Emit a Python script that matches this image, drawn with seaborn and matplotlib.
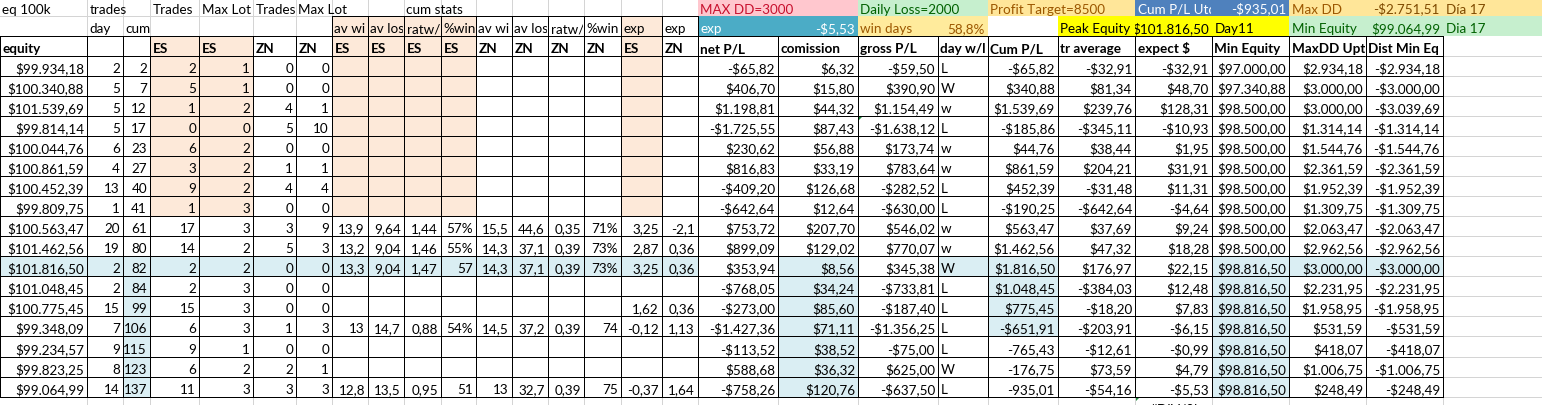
import numpy as np
import matplotlib
matplotlib.use("Agg")
import matplotlib.pyplot as plt
from matplotlib.colors import ListedColormap
from matplotlib.collections import LineCollection
from matplotlib.transforms import Bbox
import seaborn as sns

# ---- data (read from the sheet) ----
equity = [99934.18, 100340.88, 101539.69, 99814.14, 100044.76, 100861.59, 100452.39, 99809.75,
          100563.47, 101462.56, 101816.50, 101048.45, 100775.45, 99348.09, 99234.57, 99823.25, 99064.99]
trades_day = [2, 5, 5, 5, 6, 4, 13, 1, 20, 19, 2, 2, 15, 7, 9, 8, 14]
trades_cum = [2, 7, 12, 17, 23, 27, 40, 41, 61, 80, 82, 84, 99, 106, 115, 123, 137]
es_trades = [2, 5, 1, 0, 6, 3, 9, 1, 17, 14, 2, 2, 15, 6, 9, 6, 11]
es_maxlot = [1, 1, 2, 0, 2, 2, 2, 3, 3, 2, 2, 3, 3, 3, 1, 2, 3]
zn_trades = [0, 0, 4, 5, 0, 1, 4, 0, 3, 5, 0, 0, 0, 1, 0, 2, 3]
zn_maxlot = [0, 0, 1, 10, 0, 1, 4, 0, 9, 3, 0, 0, 0, 3, 0, 1, 3]

es_av_win = [''] * 8 + ['13,9', '13,2', '13,3', '', '', '13', '', '', '12,8']
es_av_loss = [''] * 8 + ['9,64', '9,04', '9,04', '', '', '14,7', '', '', '13,5']
es_ratio = [''] * 8 + ['1,44', '1,46', '1,47', '', '', '0,88', '', '', '0,95']
es_pct_win = [''] * 8 + ['57%', '55%', '57', '', '', '54%', '', '', '51']
zn_av_win = [''] * 8 + ['15,5', '14,3', '14,3', '', '', '14,5', '', '', '13']
zn_av_loss = [''] * 8 + ['44,6', '37,1', '37,1', '', '', '37,2', '', '', '32,7']
zn_ratio = [''] * 8 + ['0,35', '0,39', '0,39', '', '', '0,39', '', '', '0,39']
zn_pct_win = [''] * 8 + ['71%', '73%', '73%', '', '', '74', '', '', '75']
es_exp = [''] * 8 + ['3,25', '2,87', '3,25', '', '1,62', '-0,12', '', '', '-0,37']
zn_exp = [''] * 8 + ['-2,1', '0,36', '0,36', '', '0,36', '1,13', '', '', '1,64']

net_pl = [-65.82, 406.70, 1198.81, -1725.55, 230.62, 816.83, -409.20, -642.64, 753.72, 899.09,
          353.94, -768.05, -273.00, -1427.36, -113.52, 588.68, -758.26]
comission = [6.32, 15.80, 44.32, 87.43, 56.88, 33.19, 126.68, 12.64, 207.70, 129.02,
             8.56, 34.24, 85.60, 71.11, 38.52, 36.32, 120.76]
gross_pl = [-59.50, 390.90, 1154.49, -1638.12, 173.74, 783.64, -282.52, -630.00, 546.02, 770.07,
            345.38, -733.81, -187.40, -1356.25, -75.00, 625.00, -637.50]
day_wl = ['L', 'W', 'w', 'L', 'w', 'w', 'L', 'L', 'w', 'w', 'W', 'L', 'L', 'L', 'L', 'W', 'L']
cum_pl = [-65.82, 340.88, 1539.69, -185.86, 44.76, 861.59, 452.39, -190.25, 563.47, 1462.56,
          1816.50, 1048.45, 775.45, -651.91, -765.43, -176.75, -935.01]
cum_pl_plain = [False] * 14 + [True] * 3
tr_average = [-32.91, 81.34, 239.76, -345.11, 38.44, 204.21, -31.48, -642.64, 37.69, 47.32,
              176.97, -384.03, -18.20, -203.91, -12.61, 73.59, -54.16]
expect_usd = [-32.91, 48.70, 128.31, -10.93, 1.95, 31.91, 11.31, -4.64, 9.24, 18.28,
              22.15, 12.48, 7.83, -6.15, -0.99, 4.79, -5.53]
min_equity = [97000.00, 97340.88] + [98500.00] * 8 + [98816.50] * 7
maxdd_uptd = [2934.18, 3000.00, 3000.00, 1314.14, 1544.76, 2361.59, 1952.39, 1309.75, 2063.47,
              2962.56, 3000.00, 2231.95, 1958.95, 531.59, 418.07, 1006.75, 248.49]
dist_min_eq = [-2934.18, -3000.00, -3039.69, -1314.14, -1544.76, -2361.59, -1952.39, -1309.75,
               -2063.47, -2962.56, -3000.00, -2231.95, -1958.95, -531.59, -418.07, -1006.75, -248.49]

row1_labels = ['eq 100k', 'trades', '', 'Trades', 'Max Lot', 'Trades', 'Max Lot', '', '', 'cum stats']
row2_labels = ['', 'day', 'cum', '', '', '', '', 'av wi', 'av los', 'ratw/', '%win',
               'av wi', 'av los', 'ratw/', '%win', 'exp', 'exp']
header_labels = ['equity', '', '', 'ES', 'ES', 'ZN', 'ZN', 'ES', 'ES', 'ES', 'ES', 'ZN', 'ZN', 'ZN', 'ZN',
                 'ES', 'ZN', 'net P/L', 'comission', 'gross P/L', 'day w/l', 'Cum P/L', 'tr average',
                 'expect $', 'Min Equity', 'MaxDD Uptd', 'Dist Min Eq']

# ---- sheet geometry (pixels) ----
W, H = 1542, 406
col_edges = [0, 87, 123, 150, 199, 253, 296, 332, 368, 404, 441, 476, 512, 548, 584, 621, 662,
             698, 778, 858, 938, 988, 1058, 1135, 1212, 1289, 1366, 1443, 1542]
row_edges = [0, 17, 37, 57, 77, 97, 117, 137, 157, 177, 197, 217, 237, 257, 277, 297, 317, 337,
             358, 378, 398, 418]
NR, NC = len(row_edges) - 1, len(col_edges) - 1
FIRST = 3  # sheet row of first data line

fill_colors = ['#FFFFFF', '#FDE9D9', '#DAEEF3', '#FFC7CE', '#C6EFCE', '#FFE699',
               '#4F81BD', '#4BACC6', '#FFEB9C', '#FFFF00']
WHITE, PEACH, LBLUE, PINK, GREEN, GOLD, BLUE, TEAL, LYEL, YEL = range(10)

fill = np.zeros((NR, NC), dtype=int)
fill[2:11, 3:5] = PEACH
fill[1:11, 7:11] = PEACH
fill[1:11, 15] = PEACH
fill[13, 0:17] = LBLUE
fill[13, [18, 20, 21, 24, 25, 26]] = LBLUE
fill[14:20, 2] = LBLUE
fill[13:20, 18] = LBLUE
fill[13:17, 21] = LBLUE
fill[13:20, 24] = LBLUE
fill[0, 17:19] = PINK
fill[0, 19:21] = GREEN
fill[0, 21:23] = GOLD
fill[0, 23:25] = BLUE
fill[0, 25:28] = GOLD
fill[1, 17:19] = TEAL
fill[1, 19:21] = LYEL
fill[1, 22:25] = YEL
fill[1, 25:28] = GREEN


def money(v, dollar=True):
    s = f"{abs(v):,.2f}".replace(',', 'X').replace('.', ',').replace('X', '.')
    return ('-' if v < 0 else '') + ('$' if dollar else '') + s


# cell texts: (row, col) -> (text, align, colour, weight)
cells = {}
for c, t in enumerate(row1_labels):
    if t:
        cells[(0, c)] = (t, 'left', 'black', 'normal')
for c, t in enumerate(row2_labels):
    if t:
        cells[(1, c)] = (t, 'left', 'black', 'normal')
for c, t in enumerate(header_labels):
    if t:
        cells[(2, c)] = (t, 'left', 'black', 'bold')

cells[(0, 17)] = ('MAX DD=3000', 'left', '#C8102E', 'normal')
cells[(0, 19)] = ('Daily Loss=2000', 'left', '#006100', 'normal')
cells[(0, 21)] = ('Profit Target=8500', 'left', '#9C5700', 'normal')
cells[(0, 23)] = ('Cum P/L Utd', 'left', 'white', 'normal')
cells[(0, 24)] = (money(cum_pl[-1]), 'right', 'white', 'normal')
cells[(0, 25)] = ('Max DD', 'left', '#9C5700', 'normal')
cells[(0, 26)] = (money(-2751.51), 'right', '#7F4A00', 'normal')
cells[(0, 27)] = ('Día 17', 'left', '#7F4A00', 'normal')
cells[(1, 17)] = ('exp', 'left', 'white', 'normal')
cells[(1, 18)] = (money(expect_usd[-1]), 'right', 'white', 'normal')
cells[(1, 19)] = ('win days', 'left', '#9C5700', 'normal')
cells[(1, 20)] = ('58,8%', 'right', '#9C5700', 'normal')
cells[(1, 22)] = ('Peak Equity', 'left', 'black', 'normal')
cells[(1, 23)] = (money(max(equity)), 'right', 'black', 'normal')
cells[(1, 24)] = ('Day11', 'left', 'black', 'normal')
cells[(1, 25)] = ('Min Equity', 'left', '#006100', 'normal')
cells[(1, 26)] = (money(equity[-1]), 'right', '#006100', 'normal')
cells[(1, 27)] = ('Dia 17', 'left', '#006100', 'normal')

stat_cols = [es_av_win, es_av_loss, es_ratio, es_pct_win, zn_av_win, zn_av_loss,
             zn_ratio, zn_pct_win, es_exp, zn_exp]
for i in range(len(equity)):
    r = FIRST + i
    row = [money(equity[i]), str(trades_day[i]), str(trades_cum[i]), str(es_trades[i]),
           str(es_maxlot[i]), str(zn_trades[i]), str(zn_maxlot[i])]
    row += [col[i] for col in stat_cols]
    row += [money(net_pl[i]), money(comission[i]), money(gross_pl[i]), day_wl[i],
            money(cum_pl[i], not cum_pl_plain[i]), money(tr_average[i]), money(expect_usd[i]),
            money(min_equity[i]), money(maxdd_uptd[i]), money(dist_min_eq[i])]
    for c, t in enumerate(row):
        if t:
            cells[(r, c)] = (t, 'left' if c == 20 else 'right', 'black', 'normal')
# next sheet row, only its top edge shows in the screenshot
cells[(20, 21)] = (money(cum_pl[-1], False), 'right', 'black', 'normal')
cells[(20, 23)] = ('#DIV/0!', 'center', 'black', 'normal')

# ---- drawing ----
plt.rcParams['font.family'] = ['Lato', 'DejaVu Sans']
fig = plt.figure(figsize=(W / 100, H / 100), dpi=100)
ax = fig.add_axes([0, 0, 1, 1])

pix = np.repeat(np.repeat(fill, np.diff(row_edges), axis=0), np.diff(col_edges), axis=1)[:H, :W]
sns.heatmap(pix, cmap=ListedColormap(fill_colors), vmin=-0.5, vmax=len(fill_colors) - 0.5,
            cbar=False, xticklabels=False, yticklabels=False, ax=ax, rasterized=True)
ax.set_xlim(0, W)
ax.set_ylim(H, 0)
ax.axis('off')

# excel gridlines, hidden where cells are filled
grid = []
for j in range(1, NC):
    x = col_edges[j] - 0.5
    for r in range(NR):
        if fill[r, j - 1] == WHITE and fill[r, j] == WHITE:
            grid.append([(x, row_edges[r]), (x, row_edges[r + 1])])
for i in range(1, NR):
    y = row_edges[i] - 0.5
    for c in range(NC):
        if fill[i - 1, c] == WHITE and fill[i, c] == WHITE:
            grid.append([(col_edges[c], y), (col_edges[c + 1], y)])
ax.add_collection(LineCollection(grid, colors='#D4D4D4', linewidths=0.5, antialiased=False))

# black cell borders of the table
bordered = [(r, c) for r in range(2, FIRST + len(equity)) for c in range(27)]
bordered += [(1, c) for c in range(7, 17)]
edges = set()
for r, c in bordered:
    x0, x1 = col_edges[c] - 0.5, col_edges[c + 1] - 0.5
    y0, y1 = row_edges[r] - 0.5, row_edges[r + 1] - 0.5
    edges.add(((x0, y0), (x1, y0)))
    edges.add(((x0, y1), (x1, y1)))
    edges.add(((x0, y0), (x0, y1)))
    edges.add(((x1, y0), (x1, y1)))
ax.add_collection(LineCollection([list(e) for e in edges], colors='black',
                                 linewidths=0.5, antialiased=False))

# little green error markers
for r, c in [(6, 19), (20, 23)]:
    x0, y0 = col_edges[c], row_edges[r]
    ax.fill([x0, x0 + 5, x0], [y0, y0, y0 + 5], color='#1D8A3C', lw=0)

# cell texts, clipped like a spreadsheet
for (r, c), (t, ha, color, weight) in cells.items():
    left, right = col_edges[c], col_edges[c + 1]
    top, bottom = row_edges[r], row_edges[r + 1]
    clip_right = right
    if ha == 'left':
        nxt = [cc for cc in range(c + 1, NC) if (r, cc) in cells]
        clip_right = col_edges[nxt[0]] if nxt else W
    if ha == 'left':
        x = left + 2.5
    elif ha == 'right':
        x = right - 3
    else:
        x = (left + right) / 2
    y = bottom - 4 if r > 0 else bottom - 3.5
    txt = ax.text(x, y, t, ha=ha, va='baseline', fontsize=9.7, color=color,
                  fontweight=weight, clip_on=True)
    txt.set_clip_box(Bbox.from_extents(left, H - min(bottom, H), clip_right - 1, H - top))

fig.savefig('out.png', dpi=100)
